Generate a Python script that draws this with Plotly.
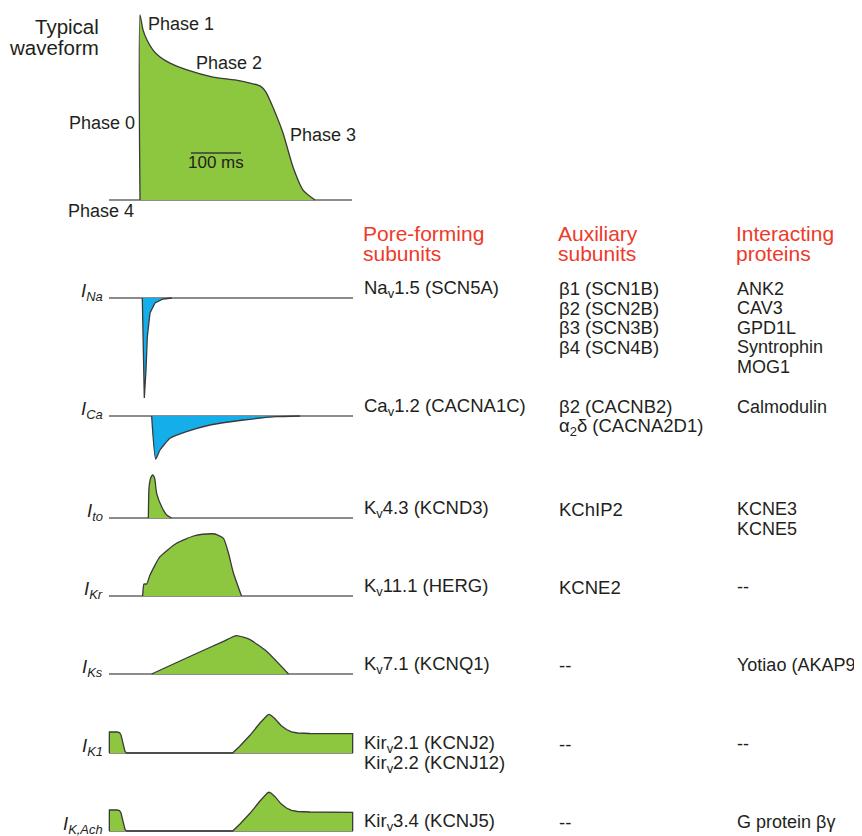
import plotly.graph_objects as go

# ---------------- data ----------------
# Typical ventricular action potential (time ms, membrane potential mV)
ap_t = [0, 0, 6, 14, 26, 40, 60, 94, 146, 190, 220, 240, 252, 264, 286, 306, 326, 350]
ap_v = [-85, 30, 20.7, 14.4, 8.2, 3.9, 0.1, -4.2, -8.6, -10.4, -12.3, -14.1, -17.9, -26, -43.4, -64.5, -78.8, -85]
rest_t = [-62, 424]
rest_v = [-85, -85]
scale_bar_t = [102, 202]
scale_bar_v = -55.8

# Ionic currents (time ms, relative current; inward negative)
ina_t = [4.6, 8.6, 12, 14.6, 20, 30, 46, 64]
ina_i = [0, -1.0, -0.72, -0.39, -0.15, -0.05, -0.01, 0]

ica_t = [23.3, 31.3, 40, 60, 93, 140, 207, 273, 320]
ica_i = [0, -0.43, -0.34, -0.223, -0.157, -0.09, -0.04, -0.007, 0]

ito_t = [16.7, 18, 21.3, 25.3, 29.3, 33.3, 43.3, 53.3, 63.3]
ito_i = [0, 0.3, 0.397, 0.43, 0.397, 0.247, 0.113, 0.03, 0]

ikr_t = [5.3, 8, 13.3, 20, 40, 73, 107, 133, 150, 167, 177, 187, 203]
ikr_i = [0, 0.12, 0.12, 0.21, 0.393, 0.527, 0.6, 0.62, 0.62, 0.577, 0.427, 0.227, 0]

iks_t = [23.3, 93, 167, 193, 220, 253, 297]
iks_i = [0, 0.16, 0.327, 0.383, 0.343, 0.227, 0]

ik1_t = [-61.3, -61.3, -46, -41, -38, -36, -33.3, -30, -26.7, 185.3, 200, 220, 240, 250, 255, 258,
         262, 270, 282, 293, 303, 315, 340, 425.3, 425.3]
ik1_i = [0, 0.21, 0.21, 0.205, 0.18, 0.13, 0.06, 0.015, 0, 0, 0.07, 0.177, 0.3, 0.36, 0.38, 0.385,
         0.378, 0.343, 0.275, 0.235, 0.212, 0.2, 0.195, 0.193, 0]

ikach_t = [-61.3, -61.3, -46, -41, -38, -36, -33.3, -30, -26.7, 185.3, 200, 220, 240, 250, 255, 258,
           262, 270, 282, 293, 303, 315, 340, 425.3, 425.3]
ikach_i = [0, 0.21, 0.21, 0.205, 0.18, 0.13, 0.06, 0.015, 0, 0, 0.07, 0.177, 0.3, 0.36, 0.382, 0.387,
           0.38, 0.343, 0.272, 0.23, 0.207, 0.195, 0.19, 0.187, 0]

current_t_range = [-62, 426]

current_names = ["Na", "Ca", "to", "Kr", "Ks", "K1", "K,Ach"]
current_t = [ina_t, ica_t, ito_t, ikr_t, iks_t, ik1_t, ikach_t]
current_i = [ina_i, ica_i, ito_i, ikr_i, iks_i, ik1_i, ikach_i]
current_shape = ["linear", "spline", "spline", "spline", "spline", "linear", "linear"]

headers = [["Pore-forming", "subunits"], ["Auxiliary", "subunits"], ["Interacting", "proteins"]]
pore_forming = [
    ["Na<sub>v</sub>1.5 (SCN5A)"],
    ["Ca<sub>v</sub>1.2 (CACNA1C)"],
    ["K<sub>v</sub>4.3 (KCND3)"],
    ["K<sub>v</sub>11.1 (HERG)"],
    ["K<sub>v</sub>7.1 (KCNQ1)"],
    ["Kir<sub>v</sub>2.1 (KCNJ2)", "Kir<sub>v</sub>2.2 (KCNJ12)"],
    ["Kir<sub>v</sub>3.4 (KCNJ5)"],
]
auxiliary = [
    ["β1 (SCN1B)", "β2 (SCN2B)", "β3 (SCN3B)", "β4 (SCN4B)"],
    ["β2 (CACNB2)", "α<sub>2</sub>δ (CACNA2D1)"],
    ["KChIP2"],
    ["KCNE2"],
    ["--"],
    ["--"],
    ["--"],
]
interacting = [
    ["ANK2", "CAV3", "GPD1L", "Syntrophin", "MOG1"],
    ["Calmodulin"],
    ["KCNE3", "KCNE5"],
    ["--"],
    ["Yotiao (AKAP9)"],
    ["--"],
    ["G protein βγ"],
]

# ---------------- layout / style ----------------
FONT = "Liberation Sans, Arial, sans-serif"
GREEN = "#8DC63F"
BLUE = "#14AEEA"
RED = "#EE3A2A"
OUTLINE = "#3a3a3a"
BASE = "#666666"
TXT = "#231f20"

OFF = 8                  # page body margin
W, H = 862 - OFF, 836 - OFF
PX_PER_MS = 0.5          # horizontal scale
T0_PX = 140              # page pixel column of t = 0
AP_BASE_PX, AP_PX_PER_MV = 200, 1.609
row_base_px = [298, 416, 518, 596, 674, 753, 831]
PX_PER_UNIT = 100
col_x = [362, 557, 735]
col_size = [18.5, 18.5, 18]
line_gap = 19.5


def px(x):
    return (x - OFF) / W


def py(y):
    return 1 - (y - OFF) / H


fig = go.Figure()

x_range = [(OFF - T0_PX) / PX_PER_MS, (OFF + W - T0_PX) / PX_PER_MS]
ap_top = -85 + (AP_BASE_PX - OFF) / AP_PX_PER_MV
ap_bot = -85 - (OFF + H - AP_BASE_PX) / AP_PX_PER_MV
layout_axes = dict(
    xaxis=dict(domain=[0, 1], range=x_range, visible=False, fixedrange=True),
    yaxis=dict(domain=[0, 1], visible=False, fixedrange=True, range=[ap_bot, ap_top]),
)

# action potential
fig.add_trace(go.Scatter(x=rest_t, y=rest_v, mode="lines", line=dict(color=BASE, width=1.6),
                         xaxis="x", yaxis="y", hoverinfo="skip"))
fig.add_trace(go.Scatter(x=ap_t, y=ap_v, mode="lines", fill="toself", fillcolor=GREEN,
                         line=dict(color=OUTLINE, width=1.3, shape="spline", smoothing=0.6),
                         xaxis="x", yaxis="y", hoverinfo="skip"))
fig.add_trace(go.Scatter(x=scale_bar_t, y=[scale_bar_v, scale_bar_v], mode="lines",
                         line=dict(color=OUTLINE, width=1.6), xaxis="x", yaxis="y", hoverinfo="skip"))

# current rows
for k, (name, tt, ii, b, shp) in enumerate(zip(current_names, current_t, current_i, row_base_px, current_shape)):
    ax = f"y{k + 2}"
    layout_axes[f"yaxis{k + 2}"] = dict(domain=[0, 1], overlaying="y", visible=False, fixedrange=True,
                                        range=[-(OFF + H - b) / PX_PER_UNIT, (b - OFF) / PX_PER_UNIT])
    fig.add_trace(go.Scatter(x=current_t_range, y=[0, 0], mode="lines", line=dict(color=BASE, width=1.6),
                             xaxis="x", yaxis=ax, hoverinfo="skip"))
    color = BLUE if min(ii) < 0 else GREEN
    fig.add_trace(go.Scatter(x=tt, y=ii, mode="lines", fill="toself", fillcolor=color,
                             line=dict(color=OUTLINE, width=1.3, shape=shp, smoothing=0.5),
                             xaxis="x", yaxis=ax, hoverinfo="skip"))

ann = []


def text(x, y, s, size=18, color=TXT, xanchor="left"):
    ann.append(dict(x=px(x), y=py(y), xref="paper", yref="paper", text=s, showarrow=False,
                    xanchor=xanchor, yanchor="middle", font=dict(family=FONT, size=size, color=color)))


# waveform labels
text(101, 27, "Typical", size=20.5, xanchor="right")
text(101, 48, "waveform", size=20.5, xanchor="right")
text(146, 24, "Phase 1", size=18)
text(194, 63, "Phase 2", size=18)
text(67, 123, "Phase 0", size=18)
text(288, 135, "Phase 3", size=18)
text(66, 211, "Phase 4", size=18)
text(186, 163, "100 ms", size=17)

# current labels
for name, b in zip(current_names, row_base_px):
    text(105, b - 6, f"<i>I</i><sub><i>{name}</i></sub>", size=18.5, xanchor="right")

# table headers
for cx, hd in zip(col_x, headers):
    for j, s in enumerate(hd):
        text(cx - 1, 233 + 20.5 * j, s, size=21, color=RED)

# table body
for cx, sz, col in zip(col_x, col_size, [pore_forming, auxiliary, interacting]):
    for b, cell in zip(row_base_px, col):
        for j, s in enumerate(cell):
            text(cx, b - 9 + line_gap * j, s, size=sz)

fig.update_layout(
    width=W, height=H, margin=dict(l=0, r=0, t=0, b=0),
    paper_bgcolor="white", plot_bgcolor="white", showlegend=False,
    annotations=ann, **layout_axes,
)

fig.write_html("out.html")
